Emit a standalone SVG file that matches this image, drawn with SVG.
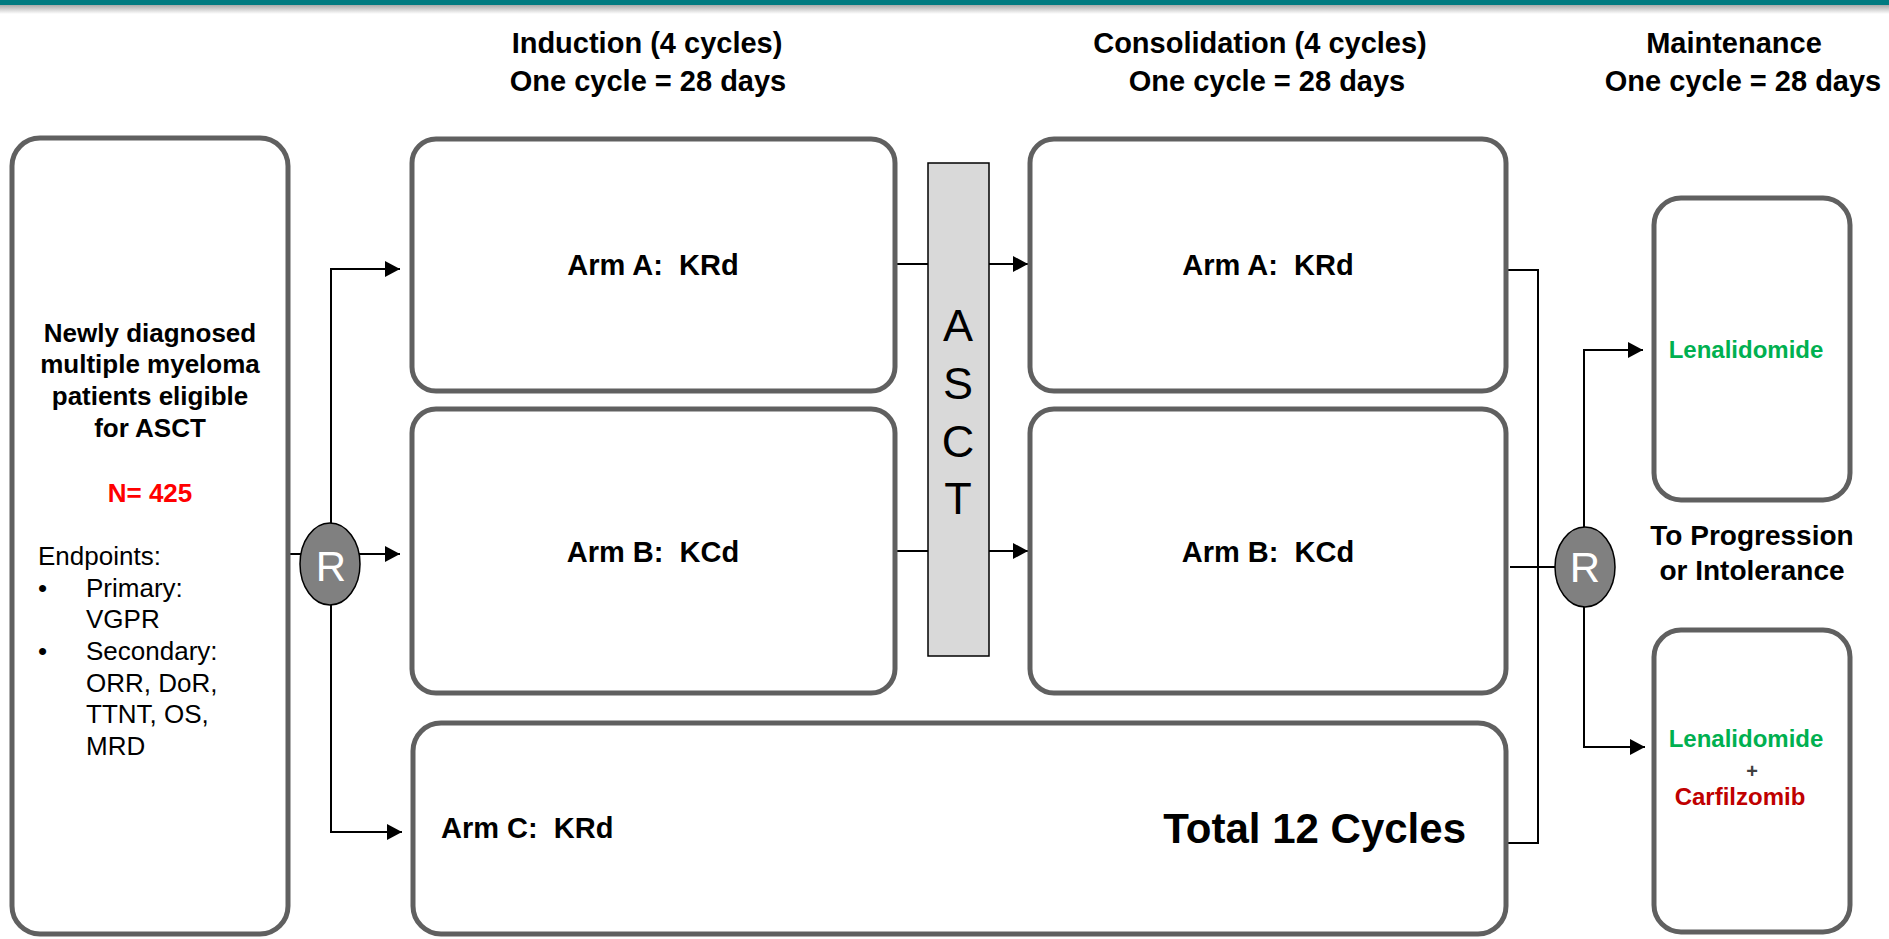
<svg xmlns="http://www.w3.org/2000/svg" width="1889" height="939" viewBox="0 0 1889 939">
<defs>
<style>
text{font-family:"Liberation Sans",Arial,sans-serif;}
.box{fill:#fff;stroke:#606060;stroke-width:5;}
.b{font-weight:bold;}
.hdr{font-size:29px;font-weight:bold;text-anchor:middle;fill:#000;}
.arm{font-size:29px;font-weight:bold;fill:#000;white-space:pre;}
.lt{font-size:26px;fill:#000;}
.conn{fill:none;stroke:#000;stroke-width:2;}
.rnode{fill:#808080;stroke:#000;stroke-width:1.5;}
.rtxt{font-size:42px;fill:#fff;text-anchor:middle;}
.asct{font-size:45px;fill:#000;text-anchor:middle;}
</style>
<marker id="ah" markerUnits="userSpaceOnUse" markerWidth="16" markerHeight="16" refX="15" refY="8" orient="auto">
<path d="M0,0 L15,8 L0,16 Z" fill="#000"/>
</marker>
<linearGradient id="shadow" x1="0" y1="0" x2="0" y2="1">
<stop offset="0" stop-color="#a8a8a8"/>
<stop offset="1" stop-color="#ffffff"/>
</linearGradient>
</defs>
<rect width="1889" height="939" fill="#fff"/>
<rect x="0" y="5" width="1889" height="9" fill="url(#shadow)"/>
<rect x="0" y="0" width="1889" height="5" fill="#007A80"/>

<g id="headers">
<text class="hdr" x="647" y="53">Induction (4 cycles)</text>
<text class="hdr" x="648" y="91">One cycle = 28 days</text>
<text class="hdr" x="1260" y="53">Consolidation (4 cycles)</text>
<text class="hdr" x="1267" y="91">One cycle = 28 days</text>
<text class="hdr" x="1734" y="53">Maintenance</text>
<text class="hdr" x="1743" y="91">One cycle = 28 days</text>
</g>

<g id="connectors">
<path class="conn" d="M290,554 H301"/>
<path class="conn" d="M331,524 V269 H400" marker-end="url(#ah)"/>
<path class="conn" d="M359,554 H400" marker-end="url(#ah)"/>
<path class="conn" d="M331,604 V832 H402" marker-end="url(#ah)"/>
<path class="conn" d="M897,264 H928"/>
<path class="conn" d="M989,264 H1028" marker-end="url(#ah)"/>
<path class="conn" d="M897,551 H928"/>
<path class="conn" d="M989,551 H1028" marker-end="url(#ah)"/>
<path class="conn" d="M1508,270 H1538 V843 H1508"/>
<path class="conn" d="M1510,567 H1555"/>
<path class="conn" d="M1584,527 V350 H1643" marker-end="url(#ah)"/>
<path class="conn" d="M1584,607 V747 H1645" marker-end="url(#ah)"/>
</g>

<g id="population">
<rect class="box" x="12" y="138" width="276" height="796" rx="28"/>
<text class="lt b" text-anchor="middle" x="150" y="342">Newly diagnosed</text>
<text class="lt b" text-anchor="middle" x="150" y="373">multiple myeloma</text>
<text class="lt b" text-anchor="middle" x="150" y="405">patients eligible</text>
<text class="lt b" text-anchor="middle" x="150" y="437">for ASCT</text>
<text class="lt b" text-anchor="middle" x="150" y="502" style="fill:#FF0000">N= 425</text>
<text class="lt" x="38" y="565">Endpoints:</text>
<text class="lt" x="38" y="597">•</text>
<text class="lt" x="86" y="597">Primary:</text>
<text class="lt" x="86" y="628">VGPR</text>
<text class="lt" x="38" y="660">•</text>
<text class="lt" x="86" y="660">Secondary:</text>
<text class="lt" x="86" y="692">ORR, DoR,</text>
<text class="lt" x="86" y="723">TTNT, OS,</text>
<text class="lt" x="86" y="755">MRD</text>
</g>

<g id="rand1">
<ellipse class="rnode" cx="330" cy="564" rx="30" ry="41"/>
<text class="rtxt" x="331" y="581">R</text>
</g>

<g id="induction-a">
<rect class="box" x="412" y="139" width="483" height="252" rx="24"/>
<text class="arm" text-anchor="middle" x="653" y="275">Arm A:&#160; KRd</text>
</g>

<g id="induction-b">
<rect class="box" x="412" y="409" width="483" height="284" rx="24"/>
<text class="arm" text-anchor="middle" x="653" y="562">Arm B:&#160; KCd</text>
</g>

<g id="asct">
<rect x="928" y="163" width="61" height="493" fill="#D9D9D9" stroke="#000" stroke-width="1.5"/>
<text class="asct" x="958" y="341">A</text>
<text class="asct" x="958" y="399">S</text>
<text class="asct" x="958" y="457">C</text>
<text class="asct" x="958" y="514">T</text>
</g>

<g id="consolidation-a">
<rect class="box" x="1030" y="139" width="476" height="252" rx="24"/>
<text class="arm" text-anchor="middle" x="1268" y="275">Arm A:&#160; KRd</text>
</g>

<g id="consolidation-b">
<rect class="box" x="1030" y="409" width="476" height="284" rx="24"/>
<text class="arm" text-anchor="middle" x="1268" y="562">Arm B:&#160; KCd</text>
</g>

<g id="arm-c">
<rect class="box" x="413" y="723" width="1093" height="211" rx="28"/>
<text class="arm" x="441" y="838">Arm C:&#160; KRd</text>
<text class="b" font-size="42" text-anchor="end" x="1466" y="843">Total 12 Cycles</text>
</g>

<g id="rand2">
<ellipse class="rnode" cx="1585" cy="567" rx="30" ry="40"/>
<text class="rtxt" x="1585" y="582">R</text>
</g>

<g id="maint-len">
<rect class="box" x="1654" y="198" width="196" height="302" rx="27"/>
<text class="b" font-size="24" fill="#00B050" text-anchor="middle" x="1746" y="358">Lenalidomide</text>
</g>

<g id="maint-note">
<text class="b" font-size="28" text-anchor="middle" x="1752" y="545">To Progression</text>
<text class="b" font-size="28" text-anchor="middle" x="1752" y="580">or Intolerance</text>
</g>

<g id="maint-len-car">
<rect class="box" x="1654" y="630" width="196" height="302" rx="27"/>
<text class="b" font-size="24" fill="#00B050" text-anchor="middle" x="1746" y="747">Lenalidomide</text>
<text class="b" font-size="20" fill="#404040" text-anchor="middle" x="1752" y="778">+</text>
<text class="b" font-size="24" fill="#C00000" text-anchor="middle" x="1740" y="805">Carfilzomib</text>
</g>
</svg>
